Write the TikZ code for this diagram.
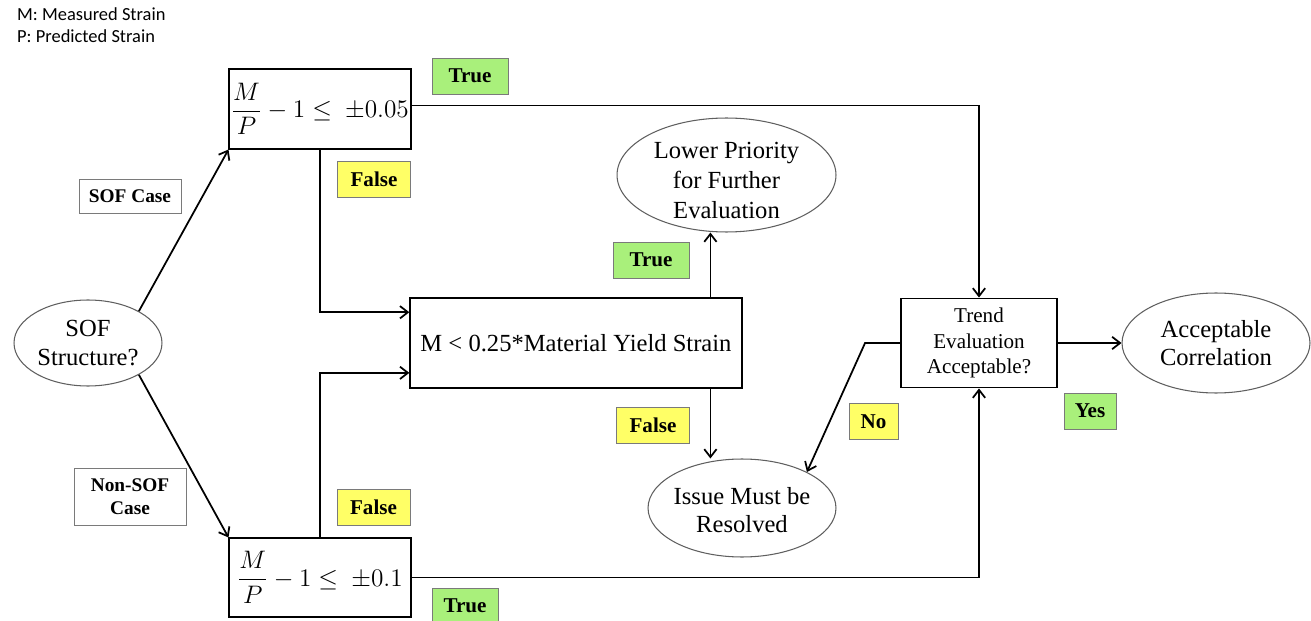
\documentclass[tikz,border=0pt]{standalone}
\usepackage{amsmath}
\usepackage{fontspec}
\setmainfont{Liberation Serif}
\newfontfamily\notefont{Carlito}
\usetikzlibrary{shapes.geometric, arrows.meta}
\definecolor{Edge}{HTML}{5F5F5F}
\definecolor{TagEdge}{HTML}{7A7A7A}
\definecolor{TrueFill}{HTML}{A9F07B}
\definecolor{FalseFill}{HTML}{FFFF66}

\begin{document}
\begin{tikzpicture}[
            x=0.02cm, y=-0.02cm,
            box/.style={
                rectangle,
                draw=black,
                line width=0.6pt,
                fill=white,
                inner sep=0pt,
                align=center,
                font=\fontsize{14}{17}\selectfont
            },
            oval/.style={ellipse, draw=Edge, line width=0.6pt, inner sep=0pt},
            ovaltext/.style={align=center, font=\fontsize{14}{16}\selectfont},
            case/.style={
                rectangle,
                draw=TagEdge,
                inner sep=0pt,
                align=center,
                font=\bfseries\fontsize{11}{13}\selectfont
            },
            truetag/.style={
                rectangle,
                draw=TagEdge,
                fill=TrueFill,
                inner sep=0pt,
                minimum width=1.52cm,
                minimum height=0.72cm,
                font=\bfseries\fontsize{12}{14}\selectfont
            },
            falsetag/.style={truetag, fill=FalseFill, minimum width=1.46cm},
            arrow/.style={-{Straight Barb[length=4.5pt,width=7pt]}, line width=1pt},
            note/.style={anchor=base west, font=\notefont\fontsize{10.5}{12}\selectfont}
        ]
            \useasboundingbox (0,0) rectangle (1311,621);

            \node[note] (defm) at (11,21) {M: Measured Strain};
            \node[note] (defp) at (11,43) {P: Predicted Strain};

            \node[oval, minimum width=2.96cm, minimum height=1.72cm,
                  label={[ovaltext]center:{SOF\\Structure?}}] (sof) at (88,343) {};
            \node[box, minimum width=3.64cm, minimum height=1.6cm] (eqsof) at (320,109)
                {$\displaystyle\frac{M}{P}-1\le\ \pm0.05$};
            \node[box, minimum width=3.64cm, minimum height=1.58cm] (eqnon) at (320,577.5)
                {$\displaystyle\frac{M}{P}-1\le\ \pm0.1$};
            \node[box, line width=0.8pt, minimum width=6.64cm, minimum height=1.8cm] (yield) at (576,343)
                {M < 0.25*Material Yield Strain};
            \node[oval, minimum width=4.38cm, minimum height=2.28cm,
                  label={[ovaltext, yshift=-3pt, font=\fontsize{14}{17}\selectfont]center:{Lower Priority\\for Further\\Evaluation}}] (lowprio) at (726.5,175) {};
            \node[oval, minimum width=3.76cm, minimum height=1.96cm,
                  label={[ovaltext, yshift=-1pt]center:{Issue Must be\\Resolved}}] (issue) at (742,508) {};
            \node[box, line width=1.1pt, minimum width=3.12cm, minimum height=1.78cm,
                  font=\fontsize{12}{14.7}\selectfont] (trend) at (979,343) {Trend\\Evaluation\\Acceptable?};
            \node[oval, minimum width=3.76cm, minimum height=2cm,
                  label={[ovaltext]center:{Acceptable\\Correlation}}] (accept) at (1216,343) {};

            % case labels
            \node[case, minimum width=2.04cm, minimum height=0.68cm] (sofcase) at (130,196) {SOF Case};
            \node[case, minimum width=2.24cm, minimum height=1.14cm] (noncase) at (130,496.5) {Non-SOF\\Case};

            % outcome tags
            \node[truetag] (tsof) at (470,76) {True};
            \node[falsetag] (fsof) at (374,179.5) {False};
            \node[truetag] (tyield) at (651,260) {True};
            \node[falsetag] (fyield) at (653,425.5) {False};
            \node[falsetag] (fnon) at (373.5,507) {False};
            \node[truetag, minimum width=1.32cm] (tnon) at (465,606) {True};
            \node[falsetag, minimum width=0.98cm] (no) at (873.5,421.5) {No};
            \node[truetag, minimum width=1.04cm] (yes) at (1090,411) {Yes};

            % connectors
            \draw[arrow] (sof.32) -- (eqsof.south west);
            \draw[arrow] (sof.-32) -- (eqnon.north west);
            \draw[arrow] ([yshift=2pt]eqsof.east) -| (trend.north);
            \draw[arrow] (eqnon.east) -| (trend.south);
            \draw[arrow] (eqsof.south) |- ([yshift=17.5pt]yield.west);
            \draw[arrow] (eqnon.north) |- ([yshift=-17pt]yield.west);
            \draw[arrow] ([xshift=76.5pt]yield.north) -- ([xshift=76.5pt]yield.north |- lowprio.south);
            \draw[arrow] ([xshift=76.5pt]yield.south) -- ([xshift=76.5pt]yield.south |- issue.north);
            \draw[arrow] (trend.west) -- ++(-35,0) -- (issue.29);
            \draw[arrow] (trend.east) -- (accept.west);
        \end{tikzpicture}
\end{document}
